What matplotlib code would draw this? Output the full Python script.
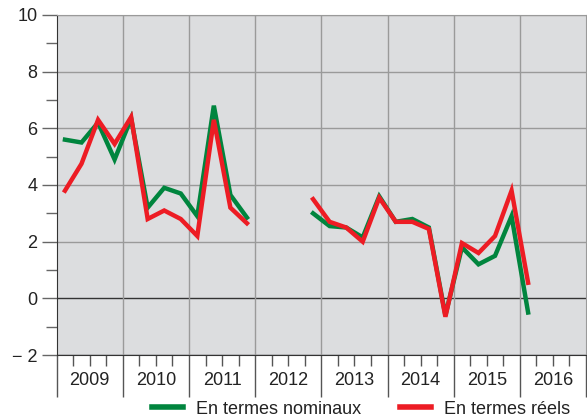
import numpy as np
import matplotlib
matplotlib.use('Agg')
import matplotlib.pyplot as plt
import matplotlib.transforms as mtransforms

plt.rcParams['font.family'] = ['Liberation Sans', 'DejaVu Sans']

years = ['2009', '2010', '2011', '2012', '2013', '2014', '2015', '2016']
nan = np.nan
# quarterly values, 2009 Q1 .. 2016 Q1
nominal = [5.6, 5.5, 6.2, 4.9,
           6.35, 3.2, 3.9, 3.7,
           2.9, 6.8, 3.65, 2.85,
           nan, nan, nan, 3.0,
           2.55, 2.5, 2.15, 3.6,
           2.7, 2.8, 2.5, -0.6,
           1.8, 1.2, 1.5, 2.9,
           -0.5]
real = [3.8, 4.75, 6.3, 5.45,
        6.4, 2.8, 3.1, 2.8,
        2.2, 6.3, 3.2, 2.65,
        nan, nan, nan, 3.5,
        2.7, 2.5, 2.0, 3.55,
        2.7, 2.7, 2.45, -0.65,
        1.95, 1.6, 2.2, 3.8,
        0.55]
labels = ['En termes nominaux', 'En termes réels']

bg = '#dcdddf'
grid = '#9a9a9a'
dark = '#333333'

fig = plt.figure(figsize=(5.87, 4.18), dpi=100)
ax = fig.add_axes([56.7/587, 63/418, (586-56.7)/587, 340/418])
ax.set_facecolor(bg)

nq = 4*len(years)
x = np.arange(len(nominal)) + 0.5
ax.plot(x, nominal, color='#00853e', lw=3.2, label=labels[0], solid_joinstyle='miter')
ax.plot(x, real, color='#ed1c24', lw=3.2, label=labels[1], solid_joinstyle='miter')

ax.set_xlim(0, nq)
ax.set_ylim(-2, 10)

# y axis
ax.set_yticks(np.arange(-2, 11, 2))
ax.set_yticklabels(['\u2212 2', '0', '2', '4', '6', '8', '10'])
ax.set_yticks(np.arange(-1, 10, 2), minor=True)
ax.tick_params(axis='y', which='major', length=11, width=1, color='#666666',
               labelsize=13, pad=3, labelcolor='#222222')
ax.tick_params(axis='y', which='minor', length=8, width=1, color='#666666')
for yv in np.arange(-2, 11, 2):
    ax.axhline(yv, color=dark if yv in (-2, 0) else grid, lw=1, zorder=1)

# x axis: year boundaries long ticks, quarter ticks short
ax.set_xticks(np.arange(0, nq + 1, 4))
ax.set_xticklabels([])
ax.set_xticks([q for q in range(nq) if q % 4], minor=True)
ax.tick_params(axis='x', which='major', length=30, width=1, color='#555555')
ax.tick_params(axis='x', which='minor', length=8, width=1, color='#555555')
for xv in np.arange(4, nq, 4):
    ax.axvline(xv, color=grid, lw=1, zorder=1)

trans = mtransforms.blended_transform_factory(ax.transData, ax.transAxes)
for i, yr in enumerate(years):
    ax.text(4*i + 2, -0.075, yr, transform=trans, ha='center', va='center',
            fontsize=13, color='#222222')

for s in ['top', 'right']:
    ax.spines[s].set_color(grid)
ax.spines['left'].set_color(dark)
ax.spines['bottom'].set_color(dark)

fig.legend(loc='center', bbox_to_anchor=(0.615, 0.021), ncol=2, frameon=False,
           fontsize=13, handlelength=1.7, columnspacing=2.2, handletextpad=0.7,
           labelcolor='#222222', borderpad=0)
for line in fig.legends[0].get_lines():
    line.set_linewidth(4)

fig.savefig('out.png', dpi=100)
